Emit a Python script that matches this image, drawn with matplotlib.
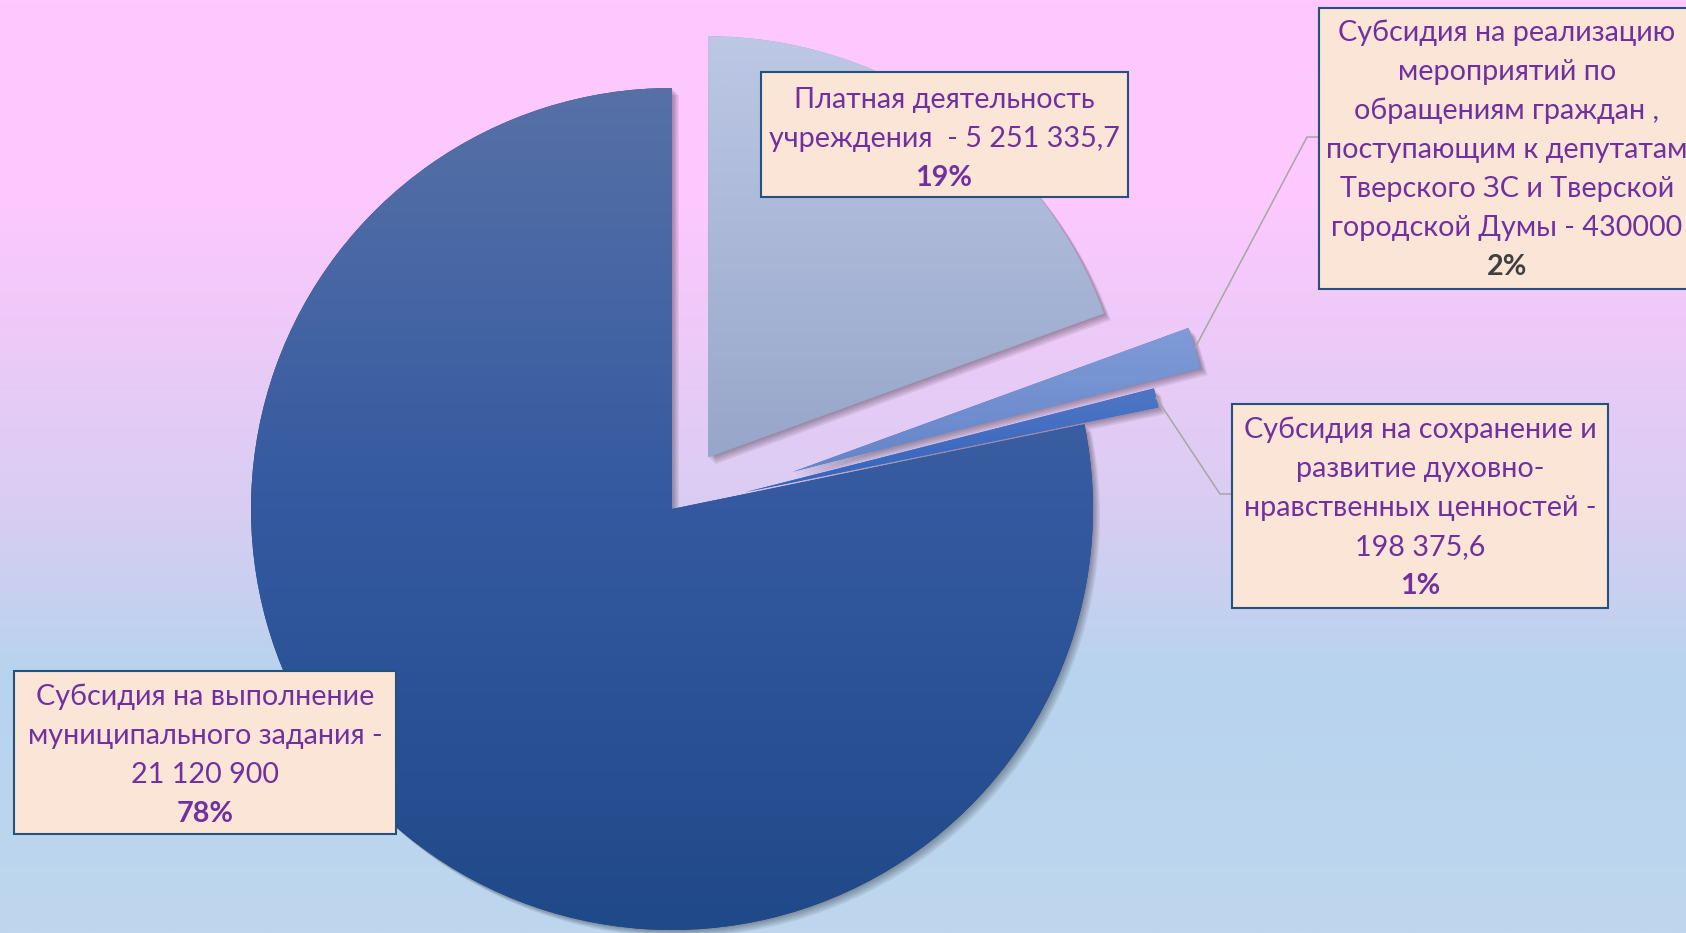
import numpy as np
import matplotlib
matplotlib.use("Agg")
import matplotlib.pyplot as plt
from matplotlib import patheffects as pe
from matplotlib.colors import LinearSegmentedColormap
from matplotlib.patches import Rectangle

# ---------------- data ----------------
categories = [
    "Платная деятельность учреждения",
    "Субсидия на реализацию мероприятий по обращениям граждан, поступающим к депутатам Тверского ЗС и Тверской городской Думы",
    "Субсидия на сохранение и развитие духовно-нравственных ценностей",
    "Субсидия на выполнение муниципального задания",
]
values = [5251335.7, 430000.0, 198375.6, 21120900.0]
value_texts = ["5 251 335,7", "430000", "198 375,6", "21 120 900"]
label_lines = [
    ["Платная деятельность", "учреждения  - " + value_texts[0]],
    ["Субсидия на реализацию", "мероприятий по", "обращениям граждан ,",
     "поступающим к депутатам", "Тверского ЗС и Тверской",
     "городской Думы - " + value_texts[1]],
    ["Субсидия на сохранение и", "развитие духовно-",
     "нравственных ценностей -", value_texts[2]],
    ["Субсидия на выполнение", "муниципального задания -", value_texts[3]],
]

# ---------------- style / layout ----------------
W, H = 1686, 933
CX, CY, R = 672, 509, 421           # pie centre / radius in image pixels
explode_frac = [0.15, 0.30, 0.18, 0.0]
wedge_grads = [
    ["#bdc8e5", "#97a6c9"],
    ["#809cd7", "#6484c9"],
    ["#4e76c4", "#3464bf"],
    ["#5771a7", "#3459a0", "#204989"],
]
bg_stops = [(0.0, "#ffc9ff"), (0.22, "#fcc8fd"), (0.55, "#d8cdf2"),
            (0.72, "#b8d3ee"), (1.0, "#bed7ee")]
TXT = "#7030a0"
BOXFACE = "#fbe5d6"
BOXEDGE = "#23527f"
FONT = "Lato"
FS = 20.7

# boxes in image pixel coords (x0, y0, x1, y1), first-line y, center x
boxes = [
    dict(rect=(761, 72, 1128, 197), y0=100, cx=944, pct_color=TXT),
    dict(rect=(1319, 8, 1700, 289), y0=33, cx=1507, pct_color="#404040"),
    dict(rect=(1232, 404, 1608, 608), y0=430, cx=1420, pct_color=TXT),
    dict(rect=(14, 671, 396, 834), y0=697, cx=205, pct_color=TXT),
]
LINE_STEP = 39
leaders = {1: [(1307, 137), (1319, 137)], 2: [(1220, 494), (1232, 494)]}

fig = plt.figure(figsize=(W / 100, H / 100), dpi=100)

# background
bg = fig.add_axes([0, 0, 1, 1], zorder=0)
bg_cmap = LinearSegmentedColormap.from_list("bg", bg_stops)
grad = np.linspace(0, 1, 512).reshape(-1, 1)
bg.imshow(grad, cmap=bg_cmap, aspect="auto", extent=(0, 1, 0, 1), origin="upper")
bg.set_axis_off()

# pie axes: radius 1, scaled so 1 unit = R pixels
ax = fig.add_axes([0, 0, 1, 1], zorder=1)
ax.patch.set_alpha(0)
total = sum(values)
wedges, _ = ax.pie(values, startangle=90, counterclock=False,
                   explode=explode_frac, radius=1.0,
                   colors=[g[-1] for g in wedge_grads],
                   wedgeprops=dict(linewidth=0))
ax.set_aspect("auto")
ax.set_axis_off()

shadow = [pe.SimplePatchShadow(offset=(d, -d), shadow_rgbFace="k", alpha=0.07)
          for d in (5, 4, 3, 2, 1)] + [pe.Normal()]
for w, g in zip(wedges, wedge_grads):
    w.set_path_effects(shadow)
    cx, cy = w.center
    th = np.radians(np.linspace(w.theta1, w.theta2, 200))
    xs = np.concatenate([[cx], cx + w.r * np.cos(th)])
    ys = np.concatenate([[cy], cy + w.r * np.sin(th)])
    cm = LinearSegmentedColormap.from_list("w", g)
    im = ax.imshow(grad, cmap=cm, aspect="auto",
                   extent=(xs.min(), xs.max(), ys.min(), ys.max()),
                   origin="upper", zorder=w.get_zorder() + 0.1)
    im.set_clip_path(w)
ax.set_xlim(-CX / R, (W - CX) / R)
ax.set_ylim(-(H - CY) / R, CY / R)

# overlay in image pixel coordinates
ov = fig.add_axes([0, 0, 1, 1], zorder=2)
ov.patch.set_alpha(0)
ov.set_xlim(0, W)
ov.set_ylim(H, 0)
ov.set_axis_off()

to_ov = ax.transData + ov.transData.inverted()
for i, pts in leaders.items():
    w = wedges[i]
    tm = np.radians((w.theta1 + w.theta2) / 2)
    sx, sy = to_ov.transform((w.center[0] + w.r * np.cos(tm), w.center[1] + w.r * np.sin(tm)))
    xs = [sx] + [p[0] for p in pts]
    ys = [sy] + [p[1] for p in pts]
    ov.plot(xs, ys, color="#a6a6a6", lw=1.1, zorder=3)

for i, b in enumerate(boxes):
    x0, y0, x1, y1 = b["rect"]
    ov.add_patch(Rectangle((x0, y0), x1 - x0, y1 - y0, facecolor=BOXFACE,
                           edgecolor=BOXEDGE, lw=1.5, zorder=4))
    lines = label_lines[i]
    for k, t in enumerate(lines):
        ov.text(b["cx"], b["y0"] + k * LINE_STEP, t, ha="center", va="center",
                fontsize=FS, family=FONT, color=TXT, zorder=5)
    pct = f"{values[i] / total * 100:.0f}%"
    ov.text(b["cx"], b["y0"] + len(lines) * LINE_STEP, pct, ha="center", va="center",
            fontsize=FS, family=FONT, fontweight="bold", color=b["pct_color"], zorder=5)

fig.savefig("out.png", dpi=100)
